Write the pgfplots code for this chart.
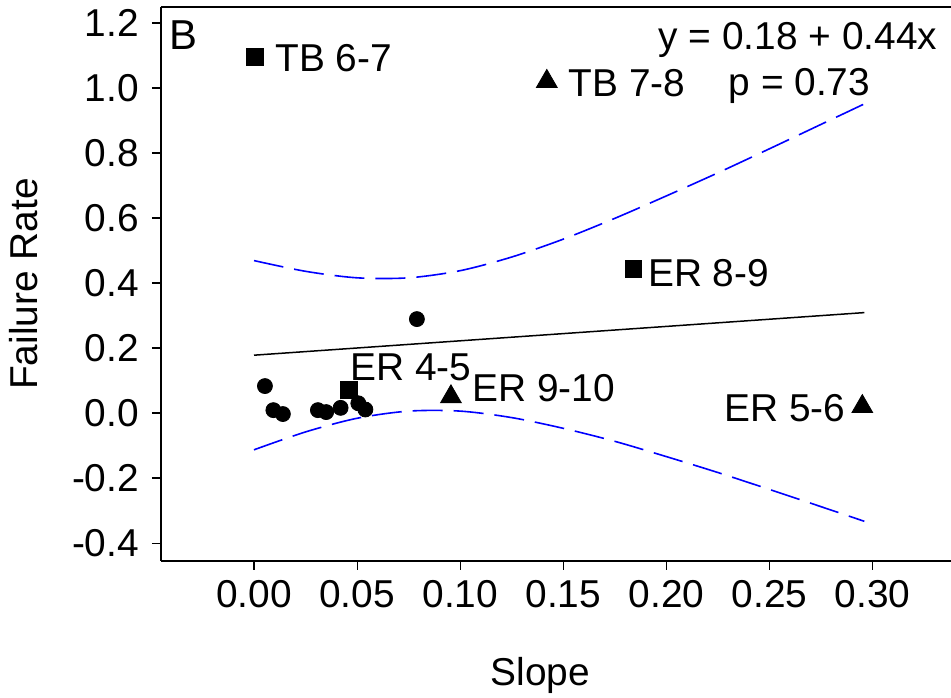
\documentclass[border=0pt]{standalone}
\usepackage{fontspec}
\setmainfont{Liberation Sans}
\usepackage{pgfplots}
\usepackage{pgfplotstable}
\pgfplotsset{compat=1.18}
\usetikzlibrary{calc}

% circles (unlabelled)
\pgfplotstableread{
x y
0.0053 0.083
0.0094 0.009
0.0140 -0.003
0.0310 0.009
0.0350 0.003
0.0420 0.016
0.0506 0.030
0.0540 0.011
0.0790 0.289
}\circs

% 95% confidence band
\pgfplotstableread{
x up lo
0.000 0.469 -0.113
0.025 0.436 -0.058
0.050 0.416 -0.016
0.075 0.416 0.006
0.100 0.438 0.006
0.125 0.480 -0.014
0.150 0.535 -0.047
0.175 0.599 -0.087
0.200 0.668 -0.134
0.225 0.739 -0.183
0.250 0.813 -0.235
0.275 0.888 -0.288
0.296 0.951 -0.333
}\band

\begin{document}
\begin{tikzpicture}[font=\fontsize{19.5}{23}\selectfont]
\begin{axis}[
    width=395bp, height=277bp, scale only axis,
    xmin=-0.0451, xmax=0.338, ymin=-0.455, ymax=1.249,
    axis x line*=bottom, axis y line*=left,
    axis line style={line width=1bp},
    tick align=outside, major tick length=4.5bp,
    tick style={black, line width=0.6bp},
    xtick={0,0.05,0.10,0.15,0.20,0.25,0.30},
    xticklabels={0.00,0.05,0.10,0.15,0.20,0.25,0.30},
    ytick={-0.4,-0.2,0,0.2,0.4,0.6,0.8,1.0,1.2},
    yticklabels={-0.4,-0.2,0.0,0.2,0.4,0.6,0.8,1.0,1.2},
    tick label style={font=\fontsize{19.5}{23}\selectfont},
    xticklabel style={yshift=-1.5bp},
    yticklabel style={xshift=-3bp},
    xlabel={Slope}, ylabel={Failure Rate},
    xlabel style={at={(axis description cs:0.48,-0.224)}, anchor=base},
    ylabel style={at={(axis description cs:-0.1734,0.5)}, anchor=center},
    clip=false,
]
\draw[line width=1bp] (rel axis cs:0,1) -- (rel axis cs:1,1);

\addplot[blue, line width=0.8bp, dash pattern=on 15bp off 5.5bp, smooth] table[x=x, y=up] {\band};
\addplot[blue, line width=0.8bp, dash pattern=on 15bp off 5.5bp, smooth] table[x=x, y=lo] {\band};
\addplot[black, line width=0.75bp] coordinates {(0,0.178) (0.296,0.309)};

\addplot[only marks, mark=*, mark size=3.75bp, black] table {\circs};
\addplot[only marks, mark=square*, mark size=4.2bp, black] coordinates {(0.0005,1.095) (0.046,0.071) (0.184,0.443)};
\addplot[only marks, mark=triangle*, mark size=6bp, black] coordinates {(0.142,1.02) (0.0955,0.05) (0.295,0.02)};

\node[anchor=base west, inner sep=0] at (axis cs:-0.041,1.117) {\fontsize{21}{24}\selectfont B};
\node[anchor=base west, inner sep=0] at (axis cs:0.0102,1.052) {TB 6-7};
\node[anchor=base west, inner sep=0] at (axis cs:0.1524,0.975) {TB 7-8};
\node[anchor=base west, inner sep=0] at (axis cs:0.196,1.117) {y = 0.18 + 0.44x};
\node[anchor=base west, inner sep=0] at (axis cs:0.230,0.978) {p = 0.73};
\node[anchor=base west, inner sep=0] at (axis cs:0.191,0.388) {ER 8-9};
\node[anchor=base west, inner sep=0] at (axis cs:0.0466,0.1015) {ER 4-5};
\node[anchor=base west, inner sep=0] at (axis cs:0.1058,0.037) {ER 9-10};
\node[anchor=base west, inner sep=0] at (axis cs:0.228,-0.025) {ER 5-6};
\end{axis}
\pgfresetboundingbox
\path[use as bounding box] ($(current axis.south west)+(-80.5bp,-68.5bp)$) rectangle ($(current axis.north east)+(0,3.5bp)$);
\end{tikzpicture}
\end{document}
